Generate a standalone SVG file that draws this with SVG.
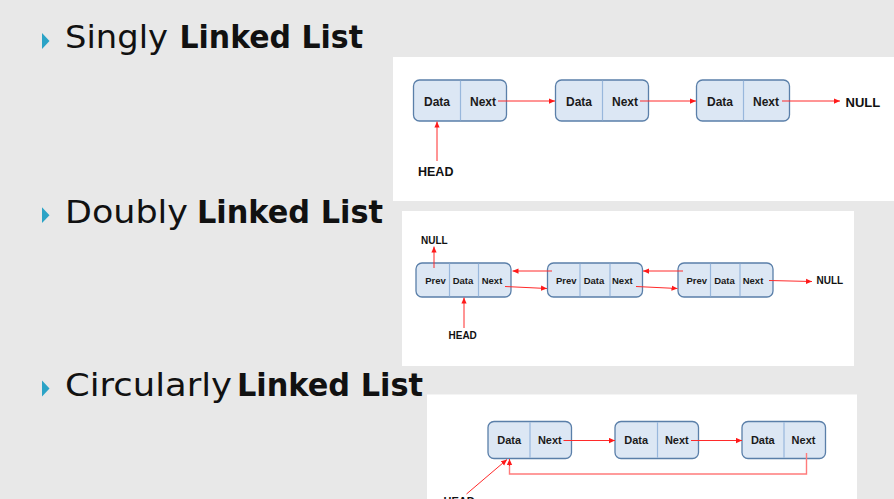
<svg xmlns="http://www.w3.org/2000/svg" width="894" height="499" viewBox="0 0 894 499">
  <defs>
    <marker id="ah" viewBox="0 0 8 8" refX="8" refY="4" markerWidth="6" markerHeight="6" orient="auto" markerUnits="userSpaceOnUse">
      <path d="M0,0.5 L8,4 L0,7.5 z" fill="#ff1a1a"/>
    </marker>
  </defs>
  <style>
    .bg { fill: #e8e8e8; }
    .panel { fill: #ffffff; }
    .bullet { fill: #2ba3c6; }
    .h { font-family: "DejaVu Sans", "Open Sans", sans-serif; font-size: 32px; fill: #111111; }
    .hb { font-weight: bold; }
    .node { fill: #dce7f4; stroke: #5a7fa9; stroke-width: 1.3; }
    .div { stroke: #98b7dc; stroke-width: 1.2; }
    .lbl { font-family: "Liberation Sans", Arial, sans-serif; font-weight: bold; fill: #1a1a1a; text-anchor: middle; }
    .s12 { font-size: 12px; }
    .s95 { font-size: 9.5px; }
    .s11 { font-size: 11px; }
    .ext { font-family: "Liberation Sans", Arial, sans-serif; font-weight: bold; fill: #111111; }
    .conn { fill: none; stroke: #ff2a2a; stroke-width: 1; marker-end: url(#ah); }
    .connL { fill: none; stroke: #ff7b7b; stroke-width: 1.4; }
  </style>

  <rect class="bg" x="0" y="0" width="894" height="499"/>

  <!-- headings -->
  <g id="heading-singly">
    <path class="bullet" d="M42,33 L49.5,41 L42,49 z"/>
    <text class="h" x="65" y="48.3" textLength="103" lengthAdjust="spacingAndGlyphs">Singly</text>
    <text class="h hb" x="179.5" y="48.3" textLength="183.5" lengthAdjust="spacingAndGlyphs">Linked List</text>
  </g>
  <g id="heading-doubly">
    <path class="bullet" d="M42,207.3 L49.5,215.2 L42,223 z"/>
    <text class="h" x="65" y="222.7" textLength="123" lengthAdjust="spacingAndGlyphs">Doubly</text>
    <text class="h hb" x="197" y="222.7" textLength="186" lengthAdjust="spacingAndGlyphs">Linked List</text>
  </g>
  <g id="heading-circular">
    <path class="bullet" d="M42,380.5 L49.5,388.5 L42,396.5 z"/>
    <text class="h" x="65" y="396" textLength="167" lengthAdjust="spacingAndGlyphs">Circularly</text>
    <text class="h hb" x="237" y="396" textLength="186" lengthAdjust="spacingAndGlyphs">Linked List</text>
  </g>

  <!-- panels -->
  <rect class="panel" x="393" y="57" width="501" height="144"/>
  <rect class="panel" x="402" y="211" width="452" height="155"/>
  <rect class="panel" x="427" y="394.5" width="430" height="105"/>

  <!-- singly nodes -->
  <g id="s-node1">
    <rect class="node" x="413.5" y="80" width="93" height="41" rx="6"/>
    <line class="div" x1="460.5" y1="80.7" x2="460.5" y2="120.3"/>
    <text class="lbl s12" x="437" y="105.5">Data</text>
    <text class="lbl s12" x="483" y="105.5">Next</text>
  </g>
  <g id="s-node2">
    <rect class="node" x="555.5" y="80" width="93" height="41" rx="6"/>
    <line class="div" x1="602.5" y1="80.7" x2="602.5" y2="120.3"/>
    <text class="lbl s12" x="579" y="105.5">Data</text>
    <text class="lbl s12" x="625" y="105.5">Next</text>
  </g>
  <g id="s-node3">
    <rect class="node" x="696.5" y="80" width="93" height="41" rx="6"/>
    <line class="div" x1="743.5" y1="80.7" x2="743.5" y2="120.3"/>
    <text class="lbl s12" x="720" y="105.5">Data</text>
    <text class="lbl s12" x="766" y="105.5">Next</text>
  </g>
  <g id="s-null"><text class="ext" x="845.5" y="106.5" font-size="13">NULL</text></g>
  <g id="s-head"><text class="ext" x="418" y="175.5" font-size="12.5">HEAD</text></g>

  <!-- doubly nodes -->
  <g id="d-node1">
    <rect class="node" x="416" y="263" width="95" height="34" rx="6"/>
    <line class="div" x1="449.5" y1="263.7" x2="449.5" y2="296.3"/>
    <line class="div" x1="478.5" y1="263.7" x2="478.5" y2="296.3"/>
    <text class="lbl s95" x="435.5" y="283.5">Prev</text>
    <text class="lbl s95" x="463" y="283.5">Data</text>
    <text class="lbl s95" x="492" y="283.5">Next</text>
  </g>
  <g id="d-node2">
    <rect class="node" x="547.5" y="263" width="95" height="34" rx="6"/>
    <line class="div" x1="580" y1="263.7" x2="580" y2="296.3"/>
    <line class="div" x1="610" y1="263.7" x2="610" y2="296.3"/>
    <text class="lbl s95" x="566.2" y="283.5">Prev</text>
    <text class="lbl s95" x="594" y="283.5">Data</text>
    <text class="lbl s95" x="622.3" y="283.5">Next</text>
  </g>
  <g id="d-node3">
    <rect class="node" x="678" y="263" width="95" height="34" rx="6"/>
    <line class="div" x1="710.5" y1="263.7" x2="710.5" y2="296.3"/>
    <line class="div" x1="740" y1="263.7" x2="740" y2="296.3"/>
    <text class="lbl s95" x="696.8" y="283.5">Prev</text>
    <text class="lbl s95" x="724.5" y="283.5">Data</text>
    <text class="lbl s95" x="753" y="283.5">Next</text>
  </g>
  <g id="d-null-left"><text class="ext" x="421" y="243.5" font-size="10">NULL</text></g>
  <g id="d-null-right"><text class="ext" x="816.5" y="284" font-size="10">NULL</text></g>
  <g id="d-head"><text class="ext" x="448.5" y="338.5" font-size="10">HEAD</text></g>

  <!-- circular nodes -->
  <g id="c-node1">
    <rect class="node" x="488" y="421.5" width="83.5" height="37" rx="6"/>
    <line class="div" x1="530" y1="422.2" x2="530" y2="457.8"/>
    <text class="lbl s11" x="509.2" y="444">Data</text>
    <text class="lbl s11" x="549.8" y="444">Next</text>
  </g>
  <g id="c-node2">
    <rect class="node" x="615" y="421.5" width="83.5" height="37" rx="6"/>
    <line class="div" x1="657.5" y1="422.2" x2="657.5" y2="457.8"/>
    <text class="lbl s11" x="636.2" y="444">Data</text>
    <text class="lbl s11" x="676.8" y="444">Next</text>
  </g>
  <g id="c-node3">
    <rect class="node" x="742" y="421.5" width="83.5" height="37" rx="6"/>
    <line class="div" x1="784" y1="422.2" x2="784" y2="457.8"/>
    <text class="lbl s11" x="762.8" y="444">Data</text>
    <text class="lbl s11" x="803.5" y="444">Next</text>
  </g>
  <g id="c-head"><text class="ext" x="443.5" y="505" font-size="11">HEAD</text></g>

  <!-- connectors -->
  <g id="connectors">
    <!-- singly -->
    <line class="conn" x1="498" y1="101" x2="555" y2="101"/>
    <line class="conn" x1="640" y1="101" x2="696" y2="101"/>
    <line class="conn" x1="782" y1="101" x2="840" y2="101"/>
    <line class="conn" x1="437" y1="161" x2="437" y2="121.5"/>
    <!-- doubly -->
    <line class="conn" x1="434" y1="268" x2="434" y2="246.5"/>
    <line class="conn" x1="464" y1="328" x2="464" y2="297.5"/>
    <line class="conn" x1="552" y1="271" x2="512.5" y2="271"/>
    <line class="conn" x1="505" y1="286.5" x2="547" y2="288.5"/>
    <line class="conn" x1="683" y1="271" x2="643" y2="271"/>
    <line class="conn" x1="636" y1="286.5" x2="677.5" y2="288.5"/>
    <line class="conn" x1="769" y1="280.5" x2="812" y2="281.5"/>
    <!-- circular -->
    <line class="conn" x1="563.5" y1="440.5" x2="615" y2="440.5"/>
    <line class="conn" x1="691" y1="440.5" x2="742" y2="440.5"/>
    <path class="connL" d="M806.5,453 V474 H509.5 V462"/>
    <line class="conn" x1="509.5" y1="466" x2="509.5" y2="459"/>
    <line class="conn" x1="466.5" y1="494" x2="507" y2="459.5"/>
  </g>
</svg>
